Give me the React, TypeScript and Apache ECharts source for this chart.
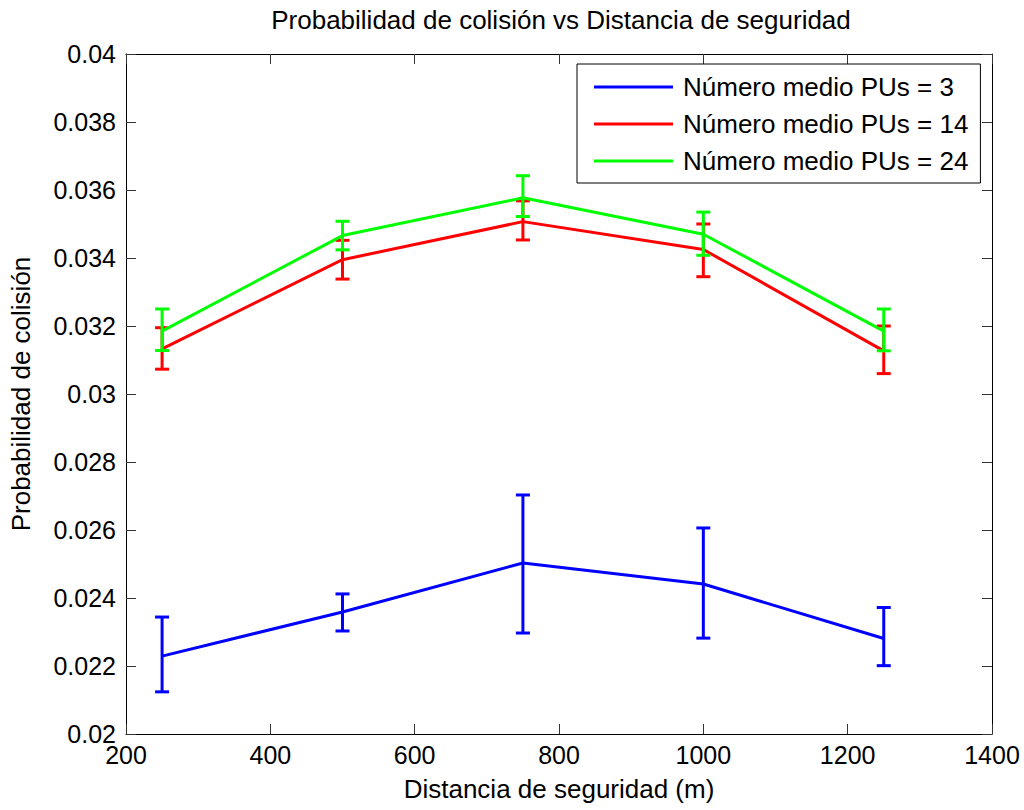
import React, { useEffect, useRef } from "react";
import * as echarts from "echarts";

const xValues = [250, 500, 750, 1000, 1250];
const seriesNames = ["Número medio PUs = 3", "Número medio PUs = 14", "Número medio PUs = 24"];
const seriesColors = ["#0000ff", "#ff0000", "#00ff00"];

const blueMean = [0.02229, 0.02359, 0.02503, 0.02441, 0.02281];
const blueLow = [0.02124, 0.02303, 0.02297, 0.02282, 0.02201];
const blueHigh = [0.02344, 0.02412, 0.02703, 0.02606, 0.02372];

const redMean = [0.03133, 0.03395, 0.03507, 0.03425, 0.03127];
const redLow = [0.03073, 0.03338, 0.03453, 0.03345, 0.03060];
const redHigh = [0.03195, 0.03452, 0.03568, 0.03500, 0.03200];

const greenMean = [0.03185, 0.03466, 0.03577, 0.03470, 0.03185];
const greenLow = [0.03128, 0.03424, 0.03522, 0.03408, 0.03127];
const greenHigh = [0.03250, 0.03508, 0.03642, 0.03535, 0.03250];

const xTicks = { min: 200, max: 1400, interval: 200 };
const yTicks = { min: 0.02, max: 0.04, interval: 0.002 };

const FONT = "Liberation Sans, Arial, Helvetica, sans-serif";

export default function App() {
  const ref = useRef<HTMLDivElement>(null);

  useEffect(() => {
    if (!ref.current) return;
    const chart = echarts.init(ref.current, null, { renderer: "svg" });

    const means = [blueMean, redMean, greenMean];
    const lows = [blueLow, redLow, greenLow];
    const highs = [blueHigh, redHigh, greenHigh];

    const series: any[] = [];
    means.forEach((m, si) => {
      const color = seriesColors[si];
      series.push({
        type: "custom",
        name: seriesNames[si] + " err",
        xAxisIndex: 0,
        yAxisIndex: 0,
        z: 2 + si * 2,
        silent: true,
        data: xValues.map((x, i) => [x, lows[si][i], highs[si][i]]),
        renderItem: (params: any, api: any) => {
          const x = api.value(0);
          const lo = api.coord([x, api.value(1)]);
          const hi = api.coord([x, api.value(2)]);
          const cw = 7;
          const st = { stroke: color, lineWidth: 3 };
          return {
            type: "group",
            children: [
              { type: "line", shape: { x1: lo[0], y1: lo[1], x2: hi[0], y2: hi[1] }, style: st },
              { type: "line", shape: { x1: lo[0] - cw, y1: lo[1], x2: lo[0] + cw, y2: lo[1] }, style: st },
              { type: "line", shape: { x1: hi[0] - cw, y1: hi[1], x2: hi[0] + cw, y2: hi[1] }, style: st },
            ],
          };
        },
      });
      series.push({
        type: "line",
        name: seriesNames[si],
        xAxisIndex: 0,
        yAxisIndex: 0,
        z: 3 + si * 2,
        symbol: "none",
        lineStyle: { color, width: 3 },
        itemStyle: { color },
        data: xValues.map((x, i) => [x, m[i]]),
      });
    });

    const axisCommon = {
      type: "value" as const,
      axisLine: { show: true, lineStyle: { color: "#000", width: 1 } },
      axisTick: { show: true, inside: true, length: 10, lineStyle: { color: "#333" } },
      splitLine: { show: false },
    };

    const fmtY = (v: number) => String(parseFloat(v.toFixed(4)));
    const fmtX = (v: number) => String(v);

    chart.setOption({
      animation: false,
      backgroundColor: "#fff",
      textStyle: { fontFamily: FONT },
      title: {
        text: "Probabilidad de colisión vs Distancia de seguridad",
        left: 556,
        top: 2,
        textAlign: "center",
        textStyle: { fontFamily: FONT, fontSize: 26, fontWeight: "normal", color: "#000" },
      },
      grid: { left: 124, right: 32, top: 54, bottom: 76 },
      legend: {
        data: seriesNames,
        orient: "vertical",
        left: 577,
        top: 64,
        icon: "rect",
        itemWidth: 79,
        itemHeight: 3,
        itemGap: 9,
        padding: [9, 12, 8, 17],
        borderColor: "#000",
        borderWidth: 1,
        backgroundColor: "#fff",
        selectedMode: false,
        textStyle: { fontFamily: FONT, fontSize: 26, color: "#000", lineHeight: 28, padding: [0, 0, 0, 5] },
      },
      xAxis: [
        {
          ...axisCommon,
          ...xTicks,
          position: "bottom",
          name: "Distancia de seguridad (m)",
          nameLocation: "middle",
          nameGap: 42,
          nameTextStyle: { fontFamily: FONT, fontSize: 26, color: "#000" },
          axisLabel: { fontFamily: FONT, fontSize: 25, color: "#000", margin: 8, formatter: fmtX },
        },
        {
          ...axisCommon,
          ...xTicks,
          position: "top",
          axisLabel: { show: false },
        },
      ],
      yAxis: [
        {
          ...axisCommon,
          ...yTicks,
          position: "left",
          name: "Probabilidad de colisión",
          nameLocation: "middle",
          nameGap: 92,
          nameTextStyle: { fontFamily: FONT, fontSize: 26, color: "#000" },
          axisLabel: { fontFamily: FONT, fontSize: 25, color: "#000", margin: 10, formatter: fmtY },
        },
        {
          ...axisCommon,
          ...yTicks,
          position: "right",
          axisLabel: { show: false },
        },
      ],
      series,
    });

    return () => chart.dispose();
  }, []);

  return (
    <div
      ref={ref}
      style={{ position: "fixed", left: 0, top: 0, width: 1024, height: 810, background: "#fff" }}
    />
  );
}
